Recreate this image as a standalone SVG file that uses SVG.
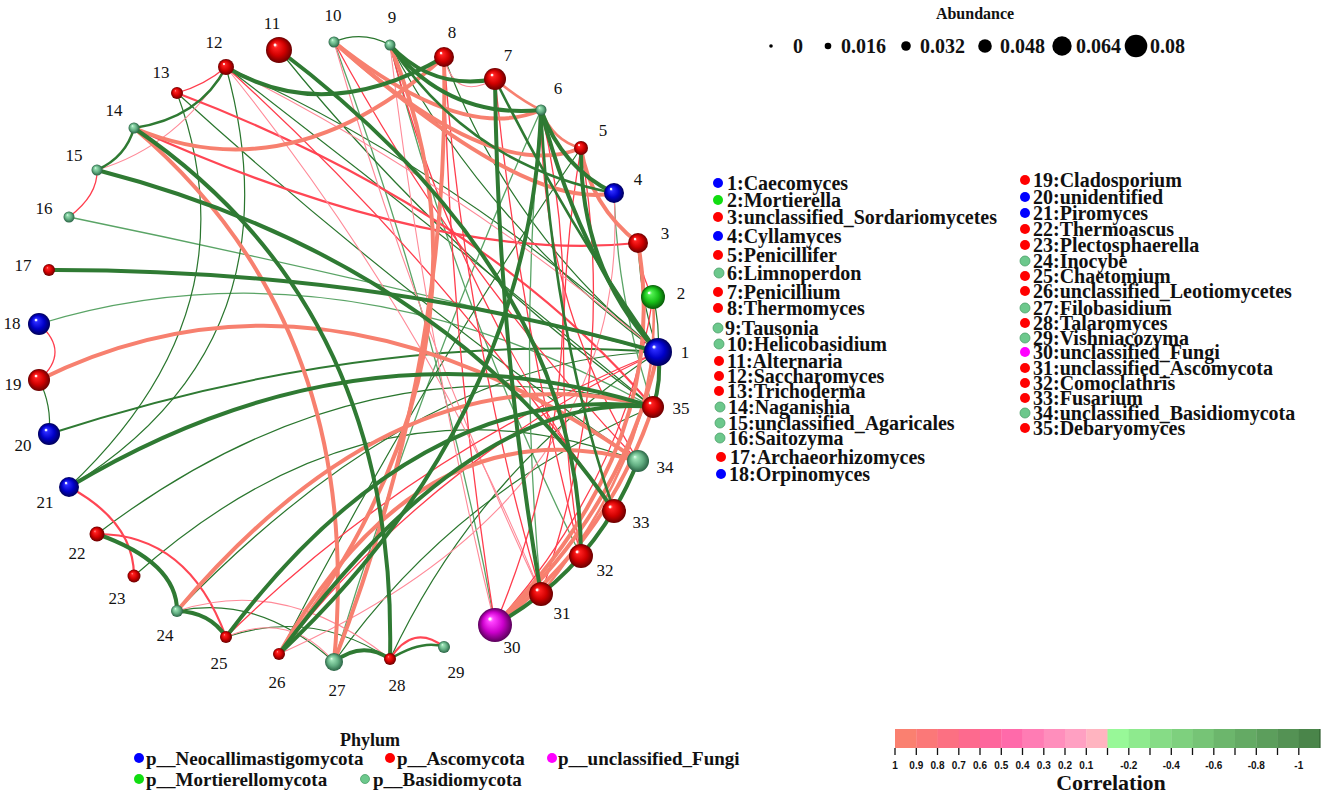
<svg xmlns="http://www.w3.org/2000/svg" width="1325" height="795" viewBox="0 0 1325 795">
<style>
.e{fill:none;stroke-linecap:round}
.S{stroke:#f7806f;stroke-width:4}
.Sm{stroke:#f7806f;stroke-width:2.6}
.R{stroke:#ff3d4d;stroke-width:1.3}
.Rm{stroke:#ff4654;stroke-width:2.2}
.P{stroke:#ff8a98;stroke-width:1.1}
.G{stroke:#2f7a33;stroke-width:4}
.Gm{stroke:#2f7a33;stroke-width:2.6}
.gm{stroke:#2f7a33;stroke-width:2}
.g{stroke:#2a762e;stroke-width:1.2}
.l{stroke:#5aa466;stroke-width:1.3}
.lab{font-family:"Liberation Serif","Times New Roman",serif;font-size:17px;fill:#111}
.leg{font-family:"Liberation Serif","Times New Roman",serif;font-size:20px;font-weight:bold;fill:#111}
.ph{font-family:"Liberation Serif","Times New Roman",serif;font-size:19px;font-weight:bold;fill:#111}
.ttl{font-family:"Liberation Serif","Times New Roman",serif;font-weight:bold;fill:#111}
.tk{font-family:"Liberation Sans",Arial,sans-serif;font-size:10px;font-weight:bold;fill:#111;text-anchor:middle}
.hl{fill:#fff;opacity:0.9}
</style>
<defs>
<radialGradient id="gRed" cx="0.5" cy="0.5" r="0.5" fx="0.35" fy="0.3"><stop offset="0" stop-color="#ff9a9a"/><stop offset="0.18" stop-color="#ff2020"/><stop offset="0.6" stop-color="#d00000"/><stop offset="1" stop-color="#6a0000"/></radialGradient>
<radialGradient id="gBlue" cx="0.5" cy="0.5" r="0.5" fx="0.35" fy="0.3"><stop offset="0" stop-color="#a0a0ff"/><stop offset="0.18" stop-color="#2a2aff"/><stop offset="0.6" stop-color="#0000c8"/><stop offset="1" stop-color="#00005a"/></radialGradient>
<radialGradient id="gGreen" cx="0.5" cy="0.5" r="0.5" fx="0.35" fy="0.3"><stop offset="0" stop-color="#d0ffd0"/><stop offset="0.18" stop-color="#50f050"/><stop offset="0.6" stop-color="#18c018"/><stop offset="1" stop-color="#085a08"/></radialGradient>
<radialGradient id="gBas" cx="0.5" cy="0.5" r="0.5" fx="0.35" fy="0.3"><stop offset="0" stop-color="#e8fff0"/><stop offset="0.18" stop-color="#9ae0b4"/><stop offset="0.6" stop-color="#62ae82"/><stop offset="1" stop-color="#2a6444"/></radialGradient>
<radialGradient id="gMag" cx="0.5" cy="0.5" r="0.5" fx="0.35" fy="0.3"><stop offset="0" stop-color="#ffc8ff"/><stop offset="0.18" stop-color="#ff40ff"/><stop offset="0.6" stop-color="#cc00cc"/><stop offset="1" stop-color="#5a005a"/></radialGradient>
</defs>
<rect width="1325" height="795" fill="#fff"/>

<g id="connectors" class="e">
<path class="g" d="M334,42 Q362,30 390,45"/>
<path class="g" d="M653,297 Q660,325 658,352"/>
<path class="l" d="M69,217 Q356,276 658,352"/>
<path class="l" d="M39,324 Q334,234 653,407"/>
<path class="gm" d="M49,434 Q366,331 658,352"/>
<path class="g" d="M226,67 Q302,343 69,487"/>
<path class="g" d="M177,93 Q257,310 69,487"/>
<path class="g" d="M97,534 Q365,330 653,407"/>
<path class="g" d="M134,576 Q374,362 638,461"/>
<path class="g" d="M177,611 Q422,358 658,352"/>
<path class="g" d="M177,611 Q260,594 334,662"/>
<path class="g" d="M226,637 Q312,608 390,659"/>
<path class="g" d="M39,380 Q52,405 49,434"/>
<path class="g" d="M226,67 Q455,170 658,352"/>
<path class="g" d="M226,67 Q445,235 653,407"/>
<path class="l" d="M334,42 Q445,346 495,625"/>
<path class="l" d="M390,45 Q458,311 581,556"/>
<path class="l" d="M614,193 Q617,300 653,407"/>
<path class="g" d="M638,243 Q640,300 658,352"/>
<path class="g" d="M444,57 Q510,234 658,352"/>
<path class="g" d="M390,45 Q489,229 658,352"/>
<path class="g" d="M177,93 Q396,292 638,461"/>
<path class="g" d="M279,50 Q442,253 653,407"/>
<path class="l" d="M334,662 Q420,379 541,110"/>
<path class="g" d="M279,654 Q414,391 581,148"/>
<path class="l" d="M541,594 Q518,352 541,110"/>
<path class="g" d="M334,662 Q457,489 653,407"/>
<path class="g" d="M390,659 Q480,467 658,352"/>

<path class="R" d="M177,93 Q205,85 226,67"/>
<path class="P" d="M226,67 Q178,146 97,170"/>
<path class="R" d="M69,217 Q98,195 97,170"/>
<path class="R" d="M39,324 Q71,352 39,380"/>
<path class="Rm" d="M69,487 Q134,522 134,576"/>
<path class="Rm" d="M97,534 Q188,534 226,637"/>
<path class="Rm" d="M177,93 Q485,210 653,407"/>
<path class="Rm" d="M134,128 Q434,264 638,243"/>
<path class="R" d="M226,67 Q440,260 614,511"/>
<path class="P" d="M614,193 Q633,496 279,654"/>
<path class="P" d="M444,57 Q455,102 495,79"/>
<path class="Rm" d="M390,659 Q413,623 444,647"/>
<path class="P" d="M177,611 Q286,575 390,659"/>
<path class="P" d="M226,637 Q290,610 334,662"/>
<path class="R" d="M638,243 Q640,275 653,297"/>
<path class="R" d="M334,42 Q458,272 638,461"/>
<path class="P" d="M334,42 Q415,327 541,594"/>
<path class="R" d="M390,45 Q456,300 614,511"/>
<path class="R" d="M444,57 Q464,331 541,594"/>
<path class="R" d="M444,57 Q450,345 495,625"/>
<path class="R" d="M581,148 Q546,352 581,556"/>
<path class="R" d="M541,110 Q541,299 638,461"/>
<path class="P" d="M226,67 Q430,320 541,594"/>
<path class="R" d="M226,637 Q414,452 658,352"/>
<path class="R" d="M495,625 Q626,479 653,297"/>
<path class="R" d="M541,594 Q619,369 581,148"/>
<path class="R" d="M495,625 Q602,372 541,110"/>
<path class="R" d="M279,654 Q432,458 658,352"/>
<path class="P" d="M226,67 Q460,185 658,352"/>
<path class="R" d="M495,79 Q519,321 581,556"/>
<path class="P" d="M390,45 Q425,340 495,625"/>

<path class="S" d="M134,128 Q291,194 444,57"/>
<path class="S" d="M334,42 Q462,144 541,110"/>
<path class="S" d="M334,42 Q492,185 581,148"/>
<path class="S" d="M334,42 Q526,212 614,193"/>
<path class="Sm" d="M495,79 Q520,100 541,110"/>
<path class="Sm" d="M541,110 Q553,141 581,148"/>
<path class="S" d="M581,148 Q590,205 638,243"/>
<path class="S" d="M39,380 Q322,240 638,461"/>
<path class="S" d="M177,611 Q405,341 653,407"/>
<path class="S" d="M134,128 Q366,325 334,662"/>
<path class="S" d="M390,45 Q515,350 279,654"/>
<path class="S" d="M495,625 Q623,511 658,352"/>
<path class="S" d="M495,625 Q606,544 653,407"/>
<path class="S" d="M495,625 Q673,446 638,243"/>
<path class="Sm" d="M541,594 Q663,445 653,297"/>
<path class="S" d="M334,662 Q451,360 444,57"/>
<path class="S" d="M279,654 Q421,402 638,461"/>

<path class="G" d="M390,45 Q433,91 495,79"/>
<path class="G" d="M390,45 Q448,119 541,110"/>
<path class="G" d="M541,110 Q562,168 614,193"/>
<path class="G" d="M226,67 Q325,126 444,57"/>
<path class="Gm" d="M226,67 Q200,118 134,128"/>
<path class="Gm" d="M97,170 Q126,157 134,128"/>
<path class="G" d="M279,50 Q580,277 581,556"/>
<path class="G" d="M134,128 Q398,307 390,659"/>
<path class="G" d="M97,170 Q444,260 614,511"/>
<path class="G" d="M49,270 Q366,269 658,352"/>
<path class="G" d="M69,487 Q359,313 653,407"/>
<path class="G" d="M495,79 Q498,344 541,594"/>
<path class="G" d="M541,110 Q580,259 658,352"/>
<path class="G" d="M581,148 Q580,270 658,352"/>
<path class="Gm" d="M541,110 Q552,330 614,511"/>
<path class="G" d="M658,352 Q662,380 653,407"/>
<path class="G" d="M495,625 Q595,569 638,461"/>
<path class="G" d="M97,534 Q177,562 177,611"/>
<path class="G" d="M177,611 Q210,612 226,637"/>
<path class="G" d="M334,662 Q362,640 390,659"/>
<path class="Gm" d="M390,659 Q423,639 444,647"/>
<path class="G" d="M226,637 Q420,378 653,407"/>
<path class="G" d="M279,654 Q474,390 653,407"/>
<path class="Gm" d="M495,79 Q570,229 658,352"/>
<path class="Gm" d="M390,45 Q471,166 614,193"/>
<path class="G" d="M279,654 Q530,418 541,110"/>
</g>

<g id="n1"><circle cx="658" cy="352" r="14" fill="url(#gBlue)"/><circle class="hl" cx="654" cy="347" r="1.5"/><text class="lab" x="685" y="358" text-anchor="middle">1</text></g>
<g id="n2"><circle cx="653" cy="297" r="12" fill="url(#gGreen)"/><circle class="hl" cx="649" cy="293" r="1.3"/><text class="lab" x="681" y="299" text-anchor="middle">2</text></g>
<g id="n3"><circle cx="638" cy="243" r="10" fill="url(#gRed)"/><circle class="hl" cx="635" cy="239" r="1.2"/><text class="lab" x="665" y="239" text-anchor="middle">3</text></g>
<g id="n4"><circle cx="614" cy="193" r="10" fill="url(#gBlue)"/><circle class="hl" cx="611" cy="189" r="1.2"/><text class="lab" x="638" y="185" text-anchor="middle">4</text></g>
<g id="n5"><circle cx="581" cy="148" r="7" fill="url(#gRed)"/><circle class="hl" cx="579" cy="145" r="1"/><text class="lab" x="603" y="136" text-anchor="middle">5</text></g>
<g id="n6"><circle cx="541" cy="110" r="5.5" fill="url(#gBas)"/><text class="lab" x="558" y="94" text-anchor="middle">6</text></g>
<g id="n7"><circle cx="495" cy="79" r="11" fill="url(#gRed)"/><circle class="hl" cx="492" cy="75" r="1.3"/><text class="lab" x="508" y="61" text-anchor="middle">7</text></g>
<g id="n8"><circle cx="444" cy="57" r="10" fill="url(#gRed)"/><circle class="hl" cx="441" cy="53" r="1.2"/><text class="lab" x="452" y="38" text-anchor="middle">8</text></g>
<g id="n9"><circle cx="390" cy="45" r="5.5" fill="url(#gBas)"/><text class="lab" x="392" y="23" text-anchor="middle">9</text></g>
<g id="n10"><circle cx="334" cy="42" r="5.5" fill="url(#gBas)"/><text class="lab" x="333" y="21" text-anchor="middle">10</text></g>
<g id="n11"><circle cx="279" cy="50" r="13" fill="url(#gRed)"/><circle class="hl" cx="275" cy="45" r="1.4"/><text class="lab" x="272" y="29" text-anchor="middle">11</text></g>
<g id="n12"><circle cx="226" cy="67" r="8" fill="url(#gRed)"/><circle class="hl" cx="224" cy="64" r="1"/><text class="lab" x="214" y="48" text-anchor="middle">12</text></g>
<g id="n13"><circle cx="177" cy="93" r="6" fill="url(#gRed)"/><text class="lab" x="161" y="78" text-anchor="middle">13</text></g>
<g id="n14"><circle cx="134" cy="128" r="5.5" fill="url(#gBas)"/><text class="lab" x="114" y="116" text-anchor="middle">14</text></g>
<g id="n15"><circle cx="97" cy="170" r="5.5" fill="url(#gBas)"/><text class="lab" x="74" y="161" text-anchor="middle">15</text></g>
<g id="n16"><circle cx="69" cy="217" r="5.5" fill="url(#gBas)"/><text class="lab" x="44" y="214" text-anchor="middle">16</text></g>
<g id="n17"><circle cx="49" cy="270" r="6" fill="url(#gRed)"/><text class="lab" x="23" y="271" text-anchor="middle">17</text></g>
<g id="n18"><circle cx="39" cy="324" r="11" fill="url(#gBlue)"/><circle class="hl" cx="36" cy="320" r="1.3"/><text class="lab" x="12" y="329" text-anchor="middle">18</text></g>
<g id="n19"><circle cx="39" cy="380" r="11" fill="url(#gRed)"/><circle class="hl" cx="36" cy="376" r="1.3"/><text class="lab" x="13" y="390" text-anchor="middle">19</text></g>
<g id="n20"><circle cx="49" cy="434" r="11" fill="url(#gBlue)"/><circle class="hl" cx="46" cy="430" r="1.3"/><text class="lab" x="23" y="451" text-anchor="middle">20</text></g>
<g id="n21"><circle cx="69" cy="487" r="10" fill="url(#gBlue)"/><circle class="hl" cx="66" cy="483" r="1.2"/><text class="lab" x="45" y="508" text-anchor="middle">21</text></g>
<g id="n22"><circle cx="97" cy="534" r="7.5" fill="url(#gRed)"/><text class="lab" x="77" y="559" text-anchor="middle">22</text></g>
<g id="n23"><circle cx="134" cy="576" r="6.5" fill="url(#gRed)"/><text class="lab" x="117" y="604" text-anchor="middle">23</text></g>
<g id="n24"><circle cx="177" cy="611" r="6" fill="url(#gBas)"/><text class="lab" x="165" y="641" text-anchor="middle">24</text></g>
<g id="n25"><circle cx="226" cy="637" r="6" fill="url(#gRed)"/><text class="lab" x="219" y="669" text-anchor="middle">25</text></g>
<g id="n26"><circle cx="279" cy="654" r="6" fill="url(#gRed)"/><text class="lab" x="277" y="688" text-anchor="middle">26</text></g>
<g id="n27"><circle cx="334" cy="662" r="9" fill="url(#gBas)"/><text class="lab" x="337" y="696" text-anchor="middle">27</text></g>
<g id="n28"><circle cx="390" cy="659" r="6" fill="url(#gRed)"/><text class="lab" x="397" y="691" text-anchor="middle">28</text></g>
<g id="n29"><circle cx="444" cy="647" r="6" fill="url(#gBas)"/><text class="lab" x="456" y="678" text-anchor="middle">29</text></g>
<g id="n30"><circle cx="495" cy="625" r="17" fill="url(#gMag)"/><circle class="hl" cx="490" cy="619" r="1.6"/><text class="lab" x="512" y="653" text-anchor="middle">30</text></g>
<g id="n31"><circle cx="541" cy="594" r="12" fill="url(#gRed)"/><circle class="hl" cx="537" cy="590" r="1.4"/><text class="lab" x="562" y="619" text-anchor="middle">31</text></g>
<g id="n32"><circle cx="581" cy="556" r="12" fill="url(#gRed)"/><circle class="hl" cx="577" cy="552" r="1.4"/><text class="lab" x="605" y="576" text-anchor="middle">32</text></g>
<g id="n33"><circle cx="614" cy="511" r="12" fill="url(#gRed)"/><circle class="hl" cx="610" cy="507" r="1.4"/><text class="lab" x="641" y="528" text-anchor="middle">33</text></g>
<g id="n34"><circle cx="638" cy="461" r="11" fill="url(#gBas)"/><text class="lab" x="665" y="473" text-anchor="middle">34</text></g>
<g id="n35"><circle cx="653" cy="407" r="11" fill="url(#gRed)"/><circle class="hl" cx="650" cy="403" r="1.3"/><text class="lab" x="681" y="414" text-anchor="middle">35</text></g>

<g id="abundance-legend">
<text class="ttl" x="975" y="19" font-size="16" text-anchor="middle">Abundance</text>
<circle cx="771" cy="46" r="1.8" fill="#000"/><text class="leg" x="793" y="53">0</text>
<circle cx="828" cy="46" r="3.3" fill="#000"/><text class="leg" x="841" y="53">0.016</text>
<circle cx="906" cy="46" r="4.8" fill="#000"/><text class="leg" x="920" y="53">0.032</text>
<circle cx="985" cy="46" r="6.8" fill="#000"/><text class="leg" x="1000" y="53">0.048</text>
<circle cx="1062" cy="46" r="9.7" fill="#000"/><text class="leg" x="1076" y="53">0.064</text>
<circle cx="1136" cy="46" r="11.3" fill="#000"/><text class="leg" x="1150" y="53">0.08</text>
</g>

<g id="species-legend">
<circle cx="718" cy="183" r="5" fill="#0000ff"/><text class="leg" x="727" y="189.5">1:Caecomyces</text>
<circle cx="718" cy="200" r="5" fill="#11dd11"/><text class="leg" x="727" y="206.5">2:Mortierella</text>
<circle cx="718" cy="217" r="5" fill="#ff0000"/><text class="leg" x="727" y="223.5">3:unclassified_Sordariomycetes</text>
<circle cx="718" cy="236" r="5" fill="#0000ff"/><text class="leg" x="727" y="242.5">4:Cyllamyces</text>
<circle cx="718" cy="255" r="5" fill="#ff0000"/><text class="leg" x="727" y="261.5">5:Penicillifer</text>
<circle cx="719" cy="273" r="5" fill="#6cc88c" stroke="#4aa068" stroke-width="0.8"/><text class="leg" x="727" y="279.5">6:Limnoperdon</text>
<circle cx="718" cy="292" r="5" fill="#ff0000"/><text class="leg" x="727" y="298.5">7:Penicillium</text>
<circle cx="718" cy="308" r="5" fill="#ff0000"/><text class="leg" x="727" y="314.5">8:Thermomyces</text>
<circle cx="718" cy="328" r="5" fill="#6cc88c" stroke="#4aa068" stroke-width="0.8"/><text class="leg" x="725" y="334.5">9:Tausonia</text>
<circle cx="719" cy="344" r="5" fill="#6cc88c" stroke="#4aa068" stroke-width="0.8"/><text class="leg" x="727" y="350.5">10:Helicobasidium</text>
<circle cx="719" cy="361" r="5" fill="#ff0000"/><text class="leg" x="727" y="367.5">11:Alternaria</text>
<circle cx="719" cy="376" r="5" fill="#ff0000"/><text class="leg" x="727" y="382.5">12:Saccharomyces</text>
<circle cx="719" cy="391" r="5" fill="#ff0000"/><text class="leg" x="727" y="397.5">13:Trichoderma</text>
<circle cx="720" cy="407" r="5" fill="#6cc88c" stroke="#4aa068" stroke-width="0.8"/><text class="leg" x="728" y="413.5">14:Naganishia</text>
<circle cx="720" cy="423" r="5" fill="#6cc88c" stroke="#4aa068" stroke-width="0.8"/><text class="leg" x="728" y="429.5">15:unclassified_Agaricales</text>
<circle cx="720" cy="438" r="5" fill="#6cc88c" stroke="#4aa068" stroke-width="0.8"/><text class="leg" x="728" y="444.5">16:Saitozyma</text>
<circle cx="721" cy="457" r="5" fill="#ff0000"/><text class="leg" x="730" y="463.5">17:Archaeorhizomyces</text>
<circle cx="721" cy="474" r="5" fill="#0000ff"/><text class="leg" x="729" y="480.5">18:Orpinomyces</text>

<circle cx="1025" cy="180" r="5" fill="#ff0000"/><text class="leg" x="1033" y="186.5">19:Cladosporium</text>
<circle cx="1025" cy="197" r="5" fill="#0000ff"/><text class="leg" x="1033" y="203.5">20:unidentified</text>
<circle cx="1025" cy="213" r="5" fill="#0000ff"/><text class="leg" x="1033" y="219.5">21:Piromyces</text>
<circle cx="1025" cy="229" r="5" fill="#ff0000"/><text class="leg" x="1033" y="235.5">22:Thermoascus</text>
<circle cx="1025" cy="245" r="5" fill="#ff0000"/><text class="leg" x="1033" y="251.5">23:Plectosphaerella</text>
<circle cx="1025" cy="261" r="5" fill="#6cc88c" stroke="#4aa068" stroke-width="0.8"/><text class="leg" x="1033" y="267.5">24:Inocybe</text>
<circle cx="1025" cy="276" r="5" fill="#ff0000"/><text class="leg" x="1033" y="282.5">25:Chaetomium</text>
<circle cx="1025" cy="291" r="5" fill="#ff0000"/><text class="leg" x="1033" y="297.5">26:unclassified_Leotiomycetes</text>
<circle cx="1025" cy="308" r="5" fill="#6cc88c" stroke="#4aa068" stroke-width="0.8"/><text class="leg" x="1033" y="314.5">27:Filobasidium</text>
<circle cx="1025" cy="323" r="5" fill="#ff0000"/><text class="leg" x="1033" y="329.5">28:Talaromyces</text>
<circle cx="1025" cy="338" r="5" fill="#6cc88c" stroke="#4aa068" stroke-width="0.8"/><text class="leg" x="1033" y="344.5">29:Vishniacozyma</text>
<circle cx="1025" cy="352" r="5" fill="#ff00ff"/><text class="leg" x="1033" y="358.5">30:unclassified_Fungi</text>
<circle cx="1025" cy="368" r="5" fill="#ff0000"/><text class="leg" x="1033" y="374.5">31:unclassified_Ascomycota</text>
<circle cx="1025" cy="383" r="5" fill="#ff0000"/><text class="leg" x="1033" y="389.5">32:Comoclathris</text>
<circle cx="1025" cy="398" r="5" fill="#ff0000"/><text class="leg" x="1033" y="404.5">33:Fusarium</text>
<circle cx="1025" cy="413" r="5" fill="#6cc88c" stroke="#4aa068" stroke-width="0.8"/><text class="leg" x="1033" y="419.5">34:unclassified_Basidiomycota</text>
<circle cx="1025" cy="428" r="5" fill="#ff0000"/><text class="leg" x="1033" y="434.5">35:Debaryomyces</text>
</g>

<g id="phylum-legend">
<text class="ttl" x="370" y="746" font-size="18" text-anchor="middle">Phylum</text>
<circle cx="139" cy="758" r="5" fill="#0000ff"/><text class="ph" x="146" y="764.5">p__Neocallimastigomycota</text>
<circle cx="390" cy="758" r="5" fill="#ff0000"/><text class="ph" x="397" y="764.5">p__Ascomycota</text>
<circle cx="552" cy="758" r="5" fill="#ff00ff"/><text class="ph" x="558" y="764.5">p__unclassified_Fungi</text>
<circle cx="139" cy="779" r="5" fill="#11dd11"/><text class="ph" x="146" y="785.5">p__Mortierellomycota</text>
<circle cx="365" cy="779" r="4.5" fill="#6cc88c" stroke="#4aa068" stroke-width="0.8"/><text class="ph" x="373" y="785.5">p__Basidiomycota</text>
</g>

<g id="correlation-legend">
<rect x="895" y="729" width="21.6" height="19" fill="#fa8070"/>
<rect x="916.3" y="729" width="21.6" height="19" fill="#fb7878"/>
<rect x="937.5" y="729" width="21.6" height="19" fill="#fc7082"/>
<rect x="958.8" y="729" width="21.6" height="19" fill="#fd6a8e"/>
<rect x="980" y="729" width="21.6" height="19" fill="#fe669c"/>
<rect x="1001.3" y="729" width="21.6" height="19" fill="#ff6aaa"/>
<rect x="1022.5" y="729" width="21.6" height="19" fill="#ff7cb4"/>
<rect x="1043.8" y="729" width="21.6" height="19" fill="#ff8ebc"/>
<rect x="1065" y="729" width="21.6" height="19" fill="#ffa0c2"/>
<rect x="1086.3" y="729" width="21.6" height="19" fill="#ffb4c0"/>
<rect x="1107.5" y="729" width="21.6" height="19" fill="#98f898"/>
<rect x="1128.8" y="729" width="21.6" height="19" fill="#8eea8e"/>
<rect x="1150" y="729" width="21.6" height="19" fill="#86dc86"/>
<rect x="1171.3" y="729" width="21.6" height="19" fill="#7ed07e"/>
<rect x="1192.5" y="729" width="21.6" height="19" fill="#76c476"/>
<rect x="1213.8" y="729" width="21.6" height="19" fill="#6cb66c"/>
<rect x="1235" y="729" width="21.6" height="19" fill="#64aa64"/>
<rect x="1256.3" y="729" width="21.6" height="19" fill="#5c9e5c"/>
<rect x="1277.5" y="729" width="21.6" height="19" fill="#549254"/>
<rect x="1298.8" y="729" width="21.2" height="19" fill="#4a854a"/>
<path d="M1320,729 V748" stroke="#2f5f2f" stroke-width="1.2"/>
<path stroke="#111" stroke-width="1.3" d="M895,748v7M916.3,748v7M937.5,748v7M958.8,748v7M980,748v7M1001.3,748v7M1022.5,748v7M1043.8,748v7M1065,748v7M1086.3,748v7M1107.5,748v7M1128.8,748v7M1150,748v7M1171.3,748v7M1192.5,748v7M1213.8,748v7M1235,748v7M1256.3,748v7M1277.5,748v7M1298.8,748v7"/>
<text class="tk" x="895" y="769">1</text>
<text class="tk" x="916.3" y="769">0.9</text>
<text class="tk" x="937.5" y="769">0.8</text>
<text class="tk" x="958.8" y="769">0.7</text>
<text class="tk" x="980" y="769">0.6</text>
<text class="tk" x="1001.3" y="769">0.5</text>
<text class="tk" x="1022.5" y="769">0.4</text>
<text class="tk" x="1043.8" y="769">0.3</text>
<text class="tk" x="1065" y="769">0.2</text>
<text class="tk" x="1086.3" y="769">0.1</text>
<text class="tk" x="1128.8" y="769">-0.2</text>
<text class="tk" x="1171.3" y="769">-0.4</text>
<text class="tk" x="1213.8" y="769">-0.6</text>
<text class="tk" x="1256.3" y="769">-0.8</text>
<text class="tk" x="1298.8" y="769">-1</text>
<text class="ttl" x="1111" y="790" font-size="22" text-anchor="middle">Correlation</text>
</g>
</svg>
